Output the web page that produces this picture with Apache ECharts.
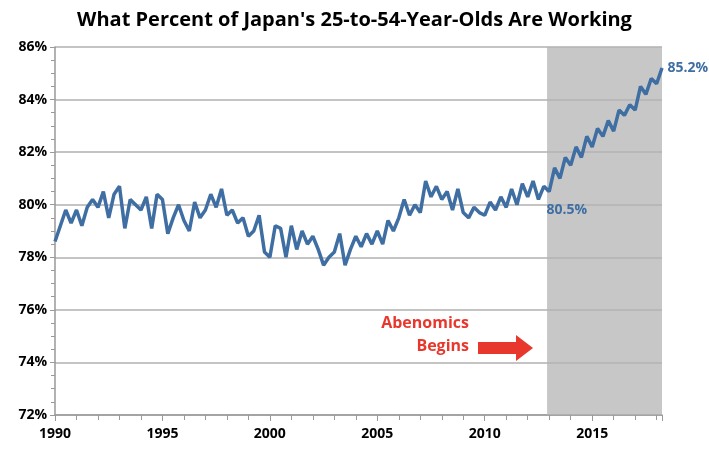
<!DOCTYPE html>
<html>
<head>
<meta charset="utf-8">
<script src="https://cdn.jsdelivr.net/npm/echarts@6/dist/echarts.min.js"></script>
<style>
  html, body { margin: 0; padding: 0; background: #fff; }
  #chart { width: 709px; height: 452px; }
</style>
</head>
<body>
<div id="chart"></div>
<script>
// quarterly readings, starting 1990 Q1
const startYear = 1990;
const pctWorking = [
  78.6, 79.2, 79.8, 79.3,
  79.8, 79.2, 79.9, 80.2,
  79.9, 80.5, 79.5, 80.4,
  80.7, 79.1, 80.2, 80.0,
  79.8, 80.3, 79.1, 80.4,
  80.2, 78.9, 79.5, 80.0,
  79.4, 79.0, 80.1, 79.5,
  79.8, 80.4, 79.9, 80.6,
  79.6, 79.8, 79.3, 79.5,
  78.8, 79.0, 79.6, 78.2,
  78.0, 79.2, 79.1, 78.0,
  79.2, 78.3, 79.0, 78.5,
  78.8, 78.3, 77.7, 78.0,
  78.2, 78.9, 77.7, 78.3,
  78.8, 78.4, 78.9, 78.5,
  79.0, 78.5, 79.4, 79.0,
  79.5, 80.2, 79.6, 80.0,
  79.7, 80.9, 80.3, 80.7,
  80.2, 80.5, 79.8, 80.6,
  79.7, 79.5, 79.9, 79.7,
  79.6, 80.1, 79.8, 80.3,
  79.9, 80.6, 80.0, 80.8,
  80.3, 80.9, 80.2, 80.7,
  80.5, 81.4, 81.0, 81.8,
  81.5, 82.2, 81.8, 82.6,
  82.2, 82.9, 82.6, 83.2,
  82.8, 83.6, 83.4, 83.8,
  83.6, 84.5, 84.2, 84.8,
  84.6, 85.2
];
const yTicks = [72, 74, 76, 78, 80, 82, 84, 86];
const abenomicsStart = 2012.9;
const abenomicsValue = 80.5;

const points = pctWorking.map((v, i) => [startYear + i / 4, v]);
const lastPoint = points[points.length - 1];

const chart = echarts.init(document.getElementById('chart'));
const bold = { fontFamily: 'Open Sans', fontWeight: 'bold', color: '#000', fontSize: 14 };

chart.setOption({
  animation: false,
  title: {
    text: "What Percent of Japan's 25-to-54-Year-Olds Are Working",
    left: 'center', top: 5,
    textStyle: { fontFamily: 'Open Sans', fontWeight: 'bold', fontSize: 20, color: '#000' }
  },
  grid: { left: 55, right: 47, top: 47, bottom: 37 },
  xAxis: {
    type: 'value', min: 1990, max: lastPoint[0], interval: 5,
    axisLine: { lineStyle: { color: '#999', width: 1.5 } },
    axisTick: { show: true, length: 6, lineStyle: { color: '#999' } },
    minorTick: { show: true, splitNumber: 5, length: 5, lineStyle: { color: '#999' } },
    axisLabel: Object.assign({ margin: 12, showMaxLabel: false, formatter: v => String(v) }, bold),
    splitLine: { show: false }
  },
  yAxis: {
    type: 'value', min: yTicks[0], max: yTicks[yTicks.length - 1], interval: 2,
    axisLine: { show: true, lineStyle: { color: '#999', width: 1.5 } },
    axisTick: { show: true, length: 5, lineStyle: { color: '#999' } },
    minorTick: { show: true, splitNumber: 4, length: 4, lineStyle: { color: '#999' } },
    axisLabel: Object.assign({ formatter: '{value}%', margin: 8 }, bold),
    splitLine: { lineStyle: { color: '#c4c4c4', width: 2 } }
  },
  series: [{
    type: 'line', data: points, showSymbol: false,
    lineStyle: { color: '#3f6ea3', width: 3.5 },
    markArea: {
      silent: true,
      itemStyle: { color: 'rgba(180,180,180,0.75)' },
      data: [[{ xAxis: abenomicsStart }, { xAxis: lastPoint[0] }]]
    },
    markPoint: {
      symbol: 'circle', symbolSize: 1,
      label: { show: true, fontFamily: 'Open Sans', fontWeight: 'bold', fontSize: 14, color: '#3f6ea3' },
      data: [
        { coord: lastPoint, value: '85.2%', label: { position: 'right', offset: [0, 0] } },
        { coord: [abenomicsStart, abenomicsValue], value: '80.5%', label: { position: 'right', offset: [-6, 18] } }
      ]
    }
  }],
  graphic: [
    { type: 'text', right: 240, top: 315, style: { text: 'Abenomics', fill: '#e8382d', font: 'bold 16px "Open Sans"' } },
    { type: 'text', right: 240, top: 338, style: { text: 'Begins', fill: '#e8382d', font: 'bold 16px "Open Sans"' } },
    { type: 'polygon', shape: { points: [[478, 342], [516, 342], [516, 335], [533, 348], [516, 361], [516, 354], [478, 354]] },
      style: { fill: '#e8382d' } }
  ]
});
</script>
</body>
</html>
